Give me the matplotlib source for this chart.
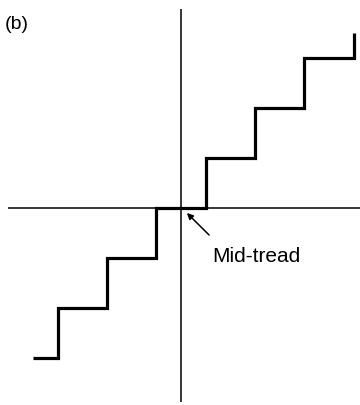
import matplotlib
matplotlib.use('Agg')
import matplotlib.pyplot as plt
import numpy as np

# mid-tread quantiser: step edges and output levels
edges = [-3.0, -2.5, -1.5, -0.5, 0.5, 1.5, 2.5, 3.5]
levels = [-3, -2, -1, 0, 1, 2, 3]
top_end = 3.5

plt.rcParams['font.family'] = ['Liberation Sans', 'DejaVu Sans']

fig = plt.figure(figsize=(3.6, 4.06), dpi=100)
ax = fig.add_axes([0, 0, 1, 1])
ax.set_xlim(-3.67, 3.63)
ax.set_ylim(-3.94, 4.18)
ax.axis('off')

# axes lines
ax.plot([-3.5, 3.63], [0, 0], color='black', lw=1.1, solid_capstyle='butt')
ax.plot([0, 0], [3.98, -3.88], color='black', lw=1.1, solid_capstyle='butt')

# staircase
xs, ys = [], []
for i, lv in enumerate(levels):
    xs += [edges[i], edges[i + 1]]
    ys += [lv, lv]
xs.append(edges[-1])
ys.append(top_end)
ax.plot(xs, ys, color='black', lw=2.3, solid_joinstyle='miter', solid_capstyle='butt')

# label and pointer
ax.annotate('', xy=(0.12, -0.1), xytext=(0.57, -0.54),
            arrowprops=dict(arrowstyle='-|>', color='black', lw=1.1,
                            mutation_scale=9, shrinkA=0, shrinkB=0))
ax.text(0.63, -1.06, 'Mid-tread', fontsize=15, va='baseline', ha='left')

fig.text(0.014, 0.929, '(b)', fontsize=14, va='baseline', ha='left')

fig.savefig('out.png', dpi=100)
